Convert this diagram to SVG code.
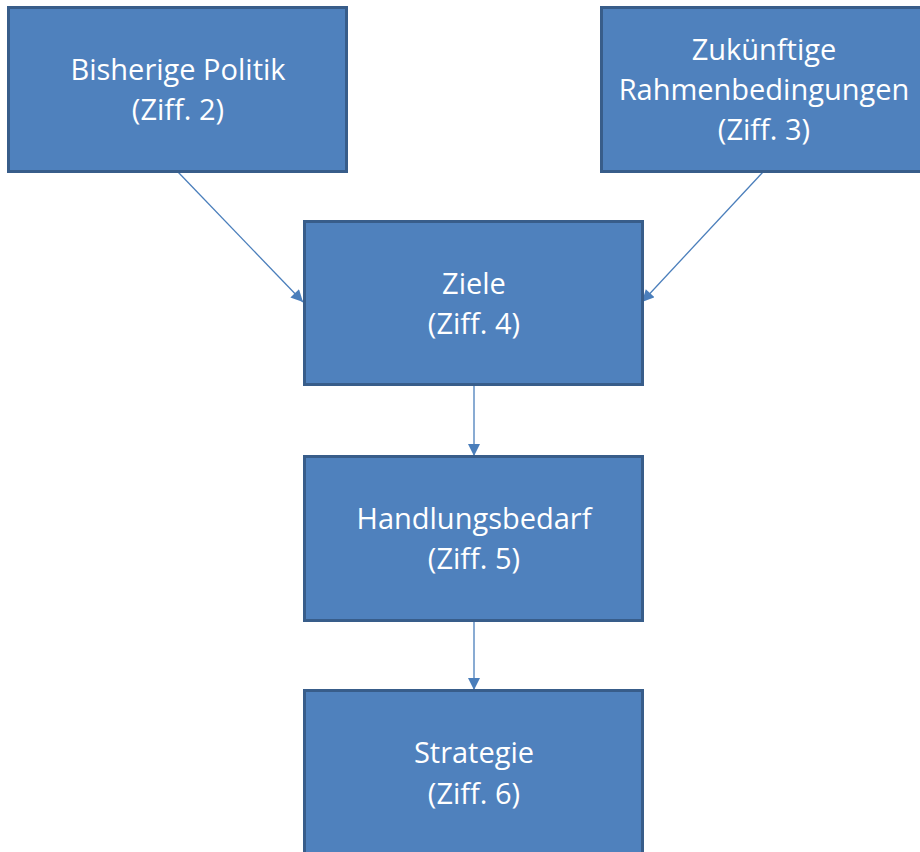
<svg xmlns="http://www.w3.org/2000/svg" width="920" height="852" viewBox="0 0 920 852">
<defs>
<style>
.box{fill:#4F81BD;stroke:#385D8A;stroke-width:3}
.t{font-family:"Open Sans","Liberation Sans",sans-serif;font-size:29px;fill:#fff;text-anchor:middle}
.c{stroke:#4A7EBB;stroke-width:1.3;fill:none}
</style>
<marker id="ah" viewBox="0 0 10 10" refX="10" refY="5" markerWidth="13" markerHeight="12" markerUnits="userSpaceOnUse" orient="auto">
<path d="M0,0 L10,5 L0,10 z" fill="#4A7EBB"/>
</marker>
</defs>
<g id="connectors">
<line class="c" x1="178" y1="172" x2="303" y2="302" marker-end="url(#ah)"/>
<line class="c" x1="763" y1="172" x2="642" y2="302" marker-end="url(#ah)"/>
<line class="c" x1="474" y1="386" x2="474" y2="456" marker-end="url(#ah)"/>
<line class="c" x1="474" y1="621" x2="474" y2="690" marker-end="url(#ah)"/>
</g>
<g id="n1"><rect class="box" x="8.5" y="7.5" width="338" height="164"/>
<text class="t" x="178" y="80">Bisherige Politik</text><text class="t" x="178" y="120">(Ziff. 2)</text></g>
<g id="n2"><rect class="box" x="601.5" y="7.5" width="326" height="164"/>
<text class="t" x="764" y="60">Zukünftige</text><text class="t" x="764" y="100">Rahmenbedingungen</text><text class="t" x="764" y="140">(Ziff. 3)</text></g>
<g id="n3"><rect class="box" x="304.5" y="221.5" width="338" height="163"/>
<text class="t" x="474" y="294">Ziele</text><text class="t" x="474" y="334">(Ziff. 4)</text></g>
<g id="n4"><rect class="box" x="304.5" y="456.5" width="338" height="164"/>
<text class="t" x="474" y="529">Handlungsbedarf</text><text class="t" x="474" y="569">(Ziff. 5)</text></g>
<g id="n5"><rect class="box" x="304.5" y="690.5" width="338" height="166"/>
<text class="t" x="474" y="763">Strategie</text><text class="t" x="474" y="804">(Ziff. 6)</text></g>
</svg>
